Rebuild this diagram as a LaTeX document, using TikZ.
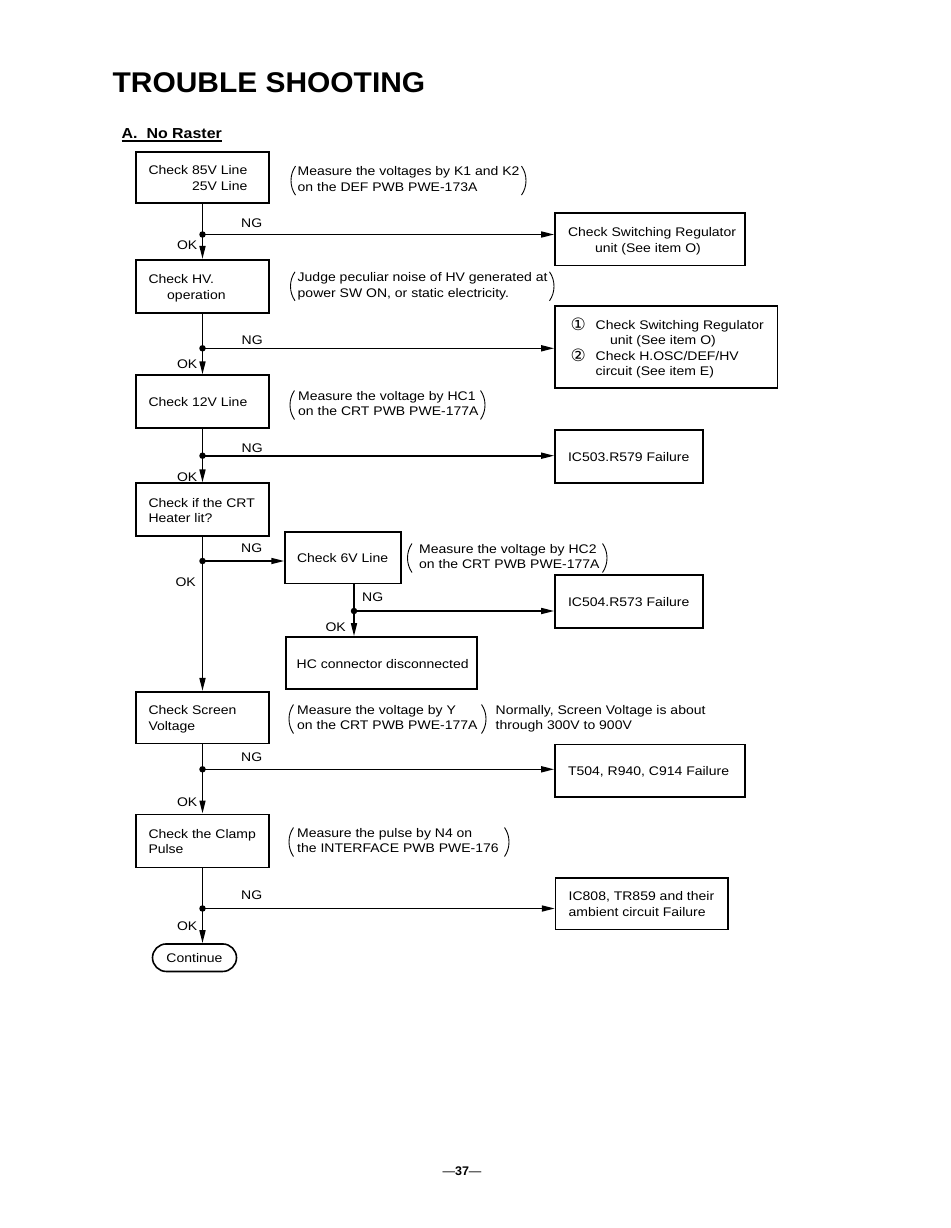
\documentclass[tikz,border=0pt]{standalone}
\usepackage{fontspec}
\setmainfont{Liberation Sans}[FakeStretch=1.12]
\newfontfamily\titlefont{Liberation Sans}[FakeStretch=1.05]
\newfontfamily\subfont{Liberation Sans}[FakeStretch=1.1]
\newfontfamily\plainfont{Liberation Sans}
\newfontfamily\symfont{DejaVu Sans}
\usetikzlibrary{arrows.meta,shapes.misc}

\newcommand\bodysize{\fontsize{12.5}{15.5}\selectfont}
\newcommand\bx[3][l]{\makebox[#2][l]{\raisebox{-2pt}[\height][\depth]{\begin{tabular}{@{}#1@{}}#3\end{tabular}}}}
\newcommand\tx[1]{\begin{tabular}{@{}l@{}}#1\end{tabular}}
\newcommand\circnum[1]{\makebox[24pt][l]{\hspace*{-1pt}\symfont\fontsize{17}{15}\selectfont\raisebox{-1pt}{#1}}}
% parens: #1 y centre, #2 x of left paren middle, #3 x of right paren middle
\newcommand\parens[3]{%
  \draw[paren] (#2+4.5,#1-14.5) .. controls (#2-1.5,#1-6) and (#2-1.5,#1+6) .. (#2+4.5,#1+14.5);
  \draw[paren] (#3-4.5,#1-14.5) .. controls (#3+1.5,#1-6) and (#3+1.5,#1+6) .. (#3-4.5,#1+14.5);}

\begin{document}
\begin{tikzpicture}[x=1pt,y=-1pt,
  box/.style={draw, line width=1.6pt, inner sep=0pt, minimum width=132.5pt, minimum height=53pt, font=\bodysize},
  cmt/.style={inner sep=0pt, anchor=west, font=\bodysize},
  lbl/.style={inner sep=0pt, font=\bodysize},
  flow/.style={line width=1.6pt},
  arr/.style={flow, -{Triangle[length=13pt,width=6pt]}},
  dot/.style={circle, fill, inner sep=0pt, minimum size=6.5pt},
  paren/.style={line width=0.9pt}]

\fill[white] (0,0) rectangle (950,1228);
\useasboundingbox (0,0) rectangle (950,1228);

% headings
\node[anchor=base west, inner sep=0pt, font=\titlefont\bfseries\fontsize{28.5}{30}\selectfont] (title) at (112.5,93) {TROUBLE SHOOTING};
\node[anchor=base west, inner sep=0pt, font=\subfont\bfseries\fontsize{14.5}{16}\selectfont] (sub) at (121.5,138.3) {A.\ \ No Raster};
\draw[line width=1.3pt] ([yshift=-2.5pt]sub.south west) -- ([yshift=-2.5pt]sub.south east);

% main column boxes
\node[box, minimum height=51.5pt] (b1) at (202.5,177.5) {\bx[r]{108pt}{Check 85V Line\\25V Line}};
\node[box] (b2) at (202.5,286.2) {\bx{108pt}{Check HV.\\\hspace*{18.7pt}operation}};
\node[box] (b3) at (202.5,401.7) {\bx{108pt}{Check 12V Line}};
\node[box] (b4) at (202.5,509.7) {\bx{108pt}{Check if the CRT\\Heater lit?}};
\node[box, minimum height=51.6pt] (b5) at (202.5,717.5) {\bx{108pt}{Check Screen\\Voltage}};
\node[box] (b6) at (202.5,840.8) {\bx{108pt}{Check the Clamp\\Pulse}};
\node[draw, line width=1.6pt, rounded rectangle, inner sep=0pt, minimum width=84pt, minimum height=27.5pt, font=\bodysize] (cont) at (194.5,957.7) {Continue};

% side boxes
\node[box, minimum width=190pt, minimum height=52.5pt] (r1) at (650,239.2) {\bx{164pt}{Check Switching Regulator\\\hspace*{27pt}unit (See item O)}};
\node[box, minimum width=222.5pt, minimum height=82.3pt, font={\fontsize{12.5}{15}\selectfont}] (r2) at (666.2,346.9) {\bx{189pt}{\circnum{①}Check Switching Regulator\\\hspace*{38.3pt}unit (See item O)\\\circnum{②}Check H.OSC/DEF/HV\\\hspace*{24pt}circuit (See item E)}};
\node[box, minimum width=148pt] (r3) at (629,456.5) {\bx{122pt}{IC503.R579 Failure}};
\node[box, minimum width=115.7pt, minimum height=51.6pt] (sixv) at (342.9,557.5) {\bx{91.7pt}{Check 6V Line}};
\node[box, minimum width=148pt] (r4) at (629,601.5) {\bx{122pt}{IC504.R573 Failure}};
\node[box, minimum width=191pt, minimum height=52pt] (hc) at (381.2,663) {\bx{169pt}{HC connector disconnected}};
\node[box, minimum width=190pt, minimum height=52.4pt] (r5) at (650,770.5) {\bx{164pt}{T504, R940, C914 Failure}};
\node[box, minimum width=172.2pt, minimum height=51.6pt] (r6) at (641.7,903.5) {\bx{146pt}{IC808, TR859 and their\\ambient circuit Failure}};

% comments
\node[cmt] (c1) at (297.5,180.6) {\tx{Measure the voltages by K1 and K2\\on the DEF PWB PWE-173A}};
\parens{180.6}{291}{526}
\node[cmt] (c2) at (297.5,286.3) {\tx{Judge peculiar noise of HV generated at\\power SW ON, or static electricity.}};
\parens{286.3}{290.5}{554}
\node[cmt] (c3) at (298,405) {\tx{Measure the voltage by HC1\\on the CRT PWB PWE-177A}};
\parens{405}{290}{485}
\node[cmt] (c4) at (419,558) {\tx{Measure the voltage by HC2\\on the CRT PWB PWE-177A}};
\parens{558}{407.5}{607}
\node[cmt] (c5) at (297,719) {\tx{Measure the voltage by Y\\on the CRT PWB PWE-177A}};
\parens{719}{289}{486}
\node[cmt] (note) at (495.5,719) {\tx{Normally, Screen Voltage is about\\through 300V to 900V}};
\node[cmt] (c6) at (297,842) {\tx{Measure the pulse by N4 on\\the INTERFACE PWB PWE-176}};
\parens{842}{289}{509}

% junctions
\coordinate (j1) at (202.5,234.5);
\coordinate (j2) at (202.5,348.3);
\coordinate (j3) at (202.5,455.7);
\coordinate (j4) at (202.5,561);
\coordinate (j6v) at (354,611);
\coordinate (j5) at (202.5,769.3);
\coordinate (j6) at (202.5,908.5);

% connectors
\draw[arr] (b1.south) -- (b2.north);
\draw[arr] (b2.south) -- (b3.north);
\draw[arr] (b3.south) -- (b4.north);
\draw[arr] (b4.south) -- (b5.north);
\draw[arr] (b5.south) -- (b6.north);
\draw[arr] (b6.south) -- (j6 |- cont.north);
\draw[arr] (j6v |- sixv.south) -- (j6v |- hc.north);

\draw[arr] (j1) -- (j1 -| r1.west);
\draw[arr] (j2) -- (j2 -| r2.west);
\draw[arr] (j3) -- (j3 -| r3.west);
\draw[arr] (j4) -- (j4 -| sixv.west);
\draw[arr] (j6v) -- (j6v -| r4.west);
\draw[arr] (j5) -- (j5 -| r5.west);
\draw[arr] (j6) -- (j6 -| r6.west);

\foreach \j in {j1,j2,j3,j4,j6v,j5,j6} \node[dot] at (\j) {};

% labels
\node[lbl, anchor=west] (ng1) at (241,223) {NG};
\node[lbl, anchor=east] (ok1) at (197.5,245) {OK};
\node[lbl, anchor=west] (ng2) at (241.5,340) {NG};
\node[lbl, anchor=east] (ok2) at (197.5,364) {OK};
\node[lbl, anchor=west] (ng3) at (241.5,448) {NG};
\node[lbl, anchor=east] (ok3) at (197.5,477) {OK};
\node[lbl, anchor=west] (ng4) at (241,548) {NG};
\node[lbl, anchor=east] (ok4) at (196,582) {OK};
\node[lbl, anchor=west] (ng6v) at (362,597) {NG};
\node[lbl, anchor=east] (ok6v) at (346,627) {OK};
\node[lbl, anchor=west] (ng5) at (241,757) {NG};
\node[lbl, anchor=east] (ok5) at (197.5,802) {OK};
\node[lbl, anchor=west] (ng6) at (241,895.5) {NG};
\node[lbl, anchor=east] (ok6) at (197.5,926.5) {OK};

% page number
\node[inner sep=0pt, font=\plainfont\fontsize{12.5}{14}\selectfont] (page) at (462,1171) {—\textbf{37}—};
\end{tikzpicture}
\end{document}
